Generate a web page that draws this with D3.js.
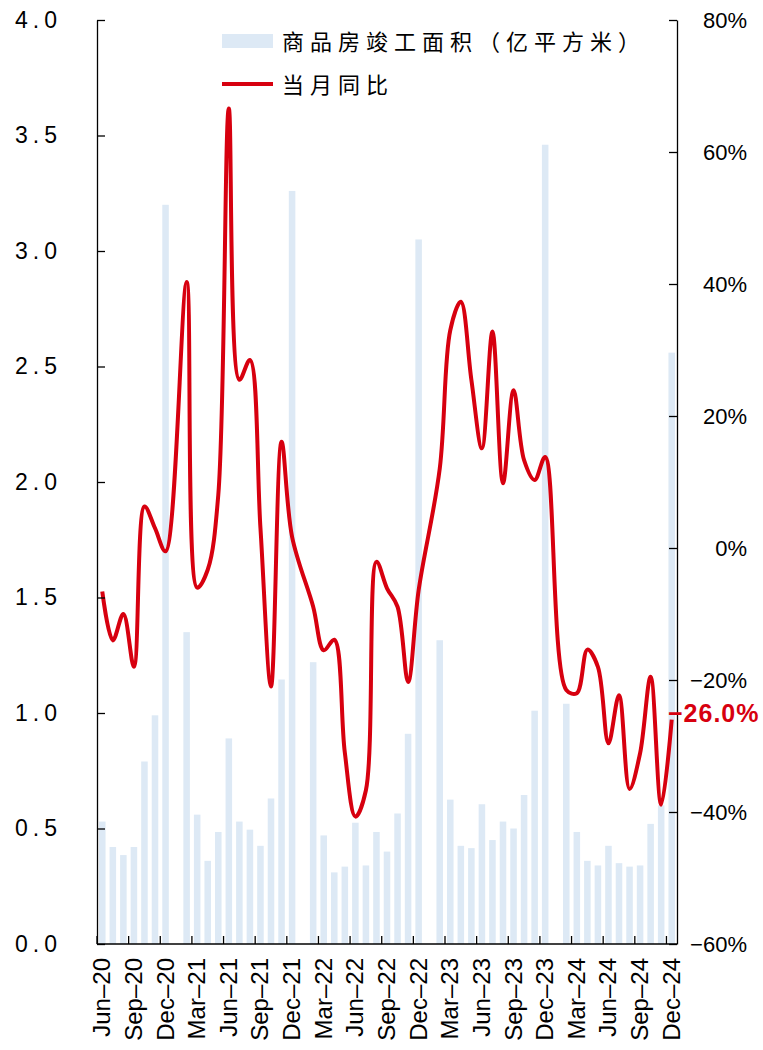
<!DOCTYPE html>
<html>
<head>
<meta charset="utf-8">
<script src="https://cdn.jsdelivr.net/npm/d3@7"></script>
<style>
body{margin:0;background:#fff}
</style>
</head>
<body>
<div id="graph"></div>
<script>
"use strict"
// months on the category axis
var months=["Jun-20","Jul-20","Aug-20","Sep-20","Oct-20","Nov-20","Dec-20",
  "Jan-21","Feb-21","Mar-21","Apr-21","May-21","Jun-21","Jul-21","Aug-21","Sep-21","Oct-21","Nov-21","Dec-21",
  "Jan-22","Feb-22","Mar-22","Apr-22","May-22","Jun-22","Jul-22","Aug-22","Sep-22","Oct-22","Nov-22","Dec-22",
  "Jan-23","Feb-23","Mar-23","Apr-23","May-23","Jun-23","Jul-23","Aug-23","Sep-23","Oct-23","Nov-23","Dec-23",
  "Jan-24","Feb-24","Mar-24","Apr-24","May-24","Jun-24","Jul-24","Aug-24","Sep-24","Oct-24","Nov-24","Dec-24"]
// completed area, 100 million m2 (no January release)
var area=[0.53,0.42,0.385,0.42,0.79,0.99,3.20,
  null,1.35,0.56,0.36,0.485,0.89,0.53,0.495,0.425,0.63,1.145,3.26,
  null,1.22,0.47,0.31,0.335,0.525,0.34,0.485,0.40,0.565,0.91,3.05,
  null,1.315,0.625,0.425,0.415,0.605,0.45,0.53,0.50,0.645,1.01,3.46,
  null,1.04,0.485,0.36,0.34,0.425,0.35,0.335,0.34,0.52,0.60,2.56]
// month yoy, %
var yoy=[-6.6,-14,-10,-18,6.3,3,-0.5,
  null,40.3,-6,-3.3,8,66.6,25.5,28.5,3,-21,16.1,1.7,
  null,-8.9,-15.5,-13.9,-31,-40.7,-36.7,-2.1,-6.1,-8.9,-20.3,-6.4,
  null,12,33,37.3,25.5,15.1,32.8,9.8,23.9,13.3,10.3,13.8,
  null,-21.5,-22,-15.4,-18,-29.6,-22.3,-36.5,-31.1,-19.5,-38.9,-26.0]
var leftTicks=[0,0.5,1,1.5,2,2.5,3,3.5,4]
var rightTicks=[-60,-40,-20,0,20,40,60,80]
var xLabels=["Jun-20","Sep-20","Dec-20","Mar-21","Jun-21","Sep-21","Dec-21","Mar-22","Jun-22","Sep-22","Dec-22","Mar-23","Jun-23","Sep-23","Dec-23","Mar-24","Jun-24","Sep-24","Dec-24"]
var legendNames=["商品房竣工面积（亿平方米）","当月同比"]
var lastLabel="−26.0%"

var red='#D7000F',blue='#DDE9F5'
var L=97,R=677,T=20,B=944

var svg=d3.select('#graph').append('svg').attr('width',763).attr('height',1050)

var x=d3.scaleBand().domain(months).range([L,R]).paddingInner(0.38).paddingOuter(0.19)
var yL=d3.scaleLinear().domain([0,4]).range([B,T])
var yR=d3.scaleLinear().domain([-60,80]).range([B,T])
var half=x.bandwidth()/2
var gap=(x.step()-x.bandwidth())/2

// bars
svg.append('g').selectAll('rect').data(months.map(function(m,i){return {m:m,v:area[i]}}).filter(function(d){return d.v!=null}))
  .enter().append('rect')
  .attr('x',function(d){return x(d.m)}).attr('width',x.bandwidth())
  .attr('y',function(d){return yL(d.v)}).attr('height',function(d){return B-yL(d.v)})
  .attr('fill',blue)

// yoy line, missing January points are bridged
var pts=months.map(function(m,i){return {m:m,v:yoy[i]}}).filter(function(d){return d.v!=null})
var line=d3.line().x(function(d){return x(d.m)+half}).y(function(d){return yR(d.v)}).curve(d3.curveCatmullRom.alpha(0.5))
svg.append('path').attr('d',line(pts)).attr('fill','none').attr('stroke',red).attr('stroke-width',4).attr('stroke-linejoin','round')

// left axis
var ax=svg.append('g').attr('transform','translate('+L+',0)')
  .call(d3.axisLeft(yL).tickValues(leftTicks).tickSizeInner(-8).tickSizeOuter(0).tickPadding(35).tickFormat(d3.format('.1f')))
ax.select('.domain').attr('stroke','#000').attr('stroke-width',1.3)
ax.selectAll('line').attr('stroke','#000').attr('stroke-width',1.3)
ax.selectAll('text').attr('font-family','Liberation Sans, Arial, sans-serif').attr('font-size',23).attr('letter-spacing',5).attr('fill','#000')

// right axis
var ar=svg.append('g').attr('transform','translate('+R+',0)')
  .call(d3.axisRight(yR).tickValues(rightTicks).tickSizeInner(-8).tickSizeOuter(0).tickPadding(70).tickFormat(function(d){return (d<0?'−'+(-d):d)+'%'}))
ar.select('.domain').attr('stroke','#000').attr('stroke-width',1.3)
ar.selectAll('line').attr('stroke','#000').attr('stroke-width',1.3)
ar.selectAll('text').attr('text-anchor','end').attr('font-family','Liberation Sans, Arial, sans-serif').attr('font-size',22).attr('fill','#000')

// bottom axis
var xb=svg.append('g')
xb.append('line').attr('x1',L).attr('x2',R).attr('y1',B).attr('y2',B).attr('stroke','#000').attr('stroke-width',1.3)
xb.selectAll('line.t').data(xLabels).enter().append('line').attr('class','t')
  .attr('x1',function(d){return x(d)-gap}).attr('x2',function(d){return x(d)-gap})
  .attr('y1',B).attr('y2',B-8).attr('stroke','#000').attr('stroke-width',1.3)
xb.selectAll('text').data(xLabels).enter().append('text')
  .attr('transform',function(d){return 'translate('+(x(d)+half+8)+','+(B+14)+')rotate(-90)'})
  .attr('text-anchor','end').attr('font-family','Liberation Sans, Arial, sans-serif').attr('font-size',24).attr('fill','#000')
  .text(function(d){return d.replace('-','–')})

// legend
var lg=svg.append('g').attr('font-family','Noto Sans CJK SC, sans-serif').attr('font-size',22).attr('fill','#000')
lg.append('rect').attr('x',222).attr('y',34).attr('width',51).attr('height',14).attr('fill',blue)
lg.append('text').attr('x',282).attr('y',50).attr('letter-spacing',6).text(legendNames[0])
lg.append('line').attr('x1',222).attr('x2',273).attr('y1',84).attr('y2',84).attr('stroke',red).attr('stroke-width',4)
lg.append('text').attr('x',282).attr('y',93).attr('letter-spacing',6).text(legendNames[1])

// last value label
svg.append('text').attr('x',668).attr('y',yR(yoy[yoy.length-1])+2)
  .attr('font-family','Liberation Sans, Arial, sans-serif').attr('font-size',25).attr('font-weight','bold')
  .attr('letter-spacing',1).attr('fill',red).text(lastLabel)
</script>
</body>
</html>
